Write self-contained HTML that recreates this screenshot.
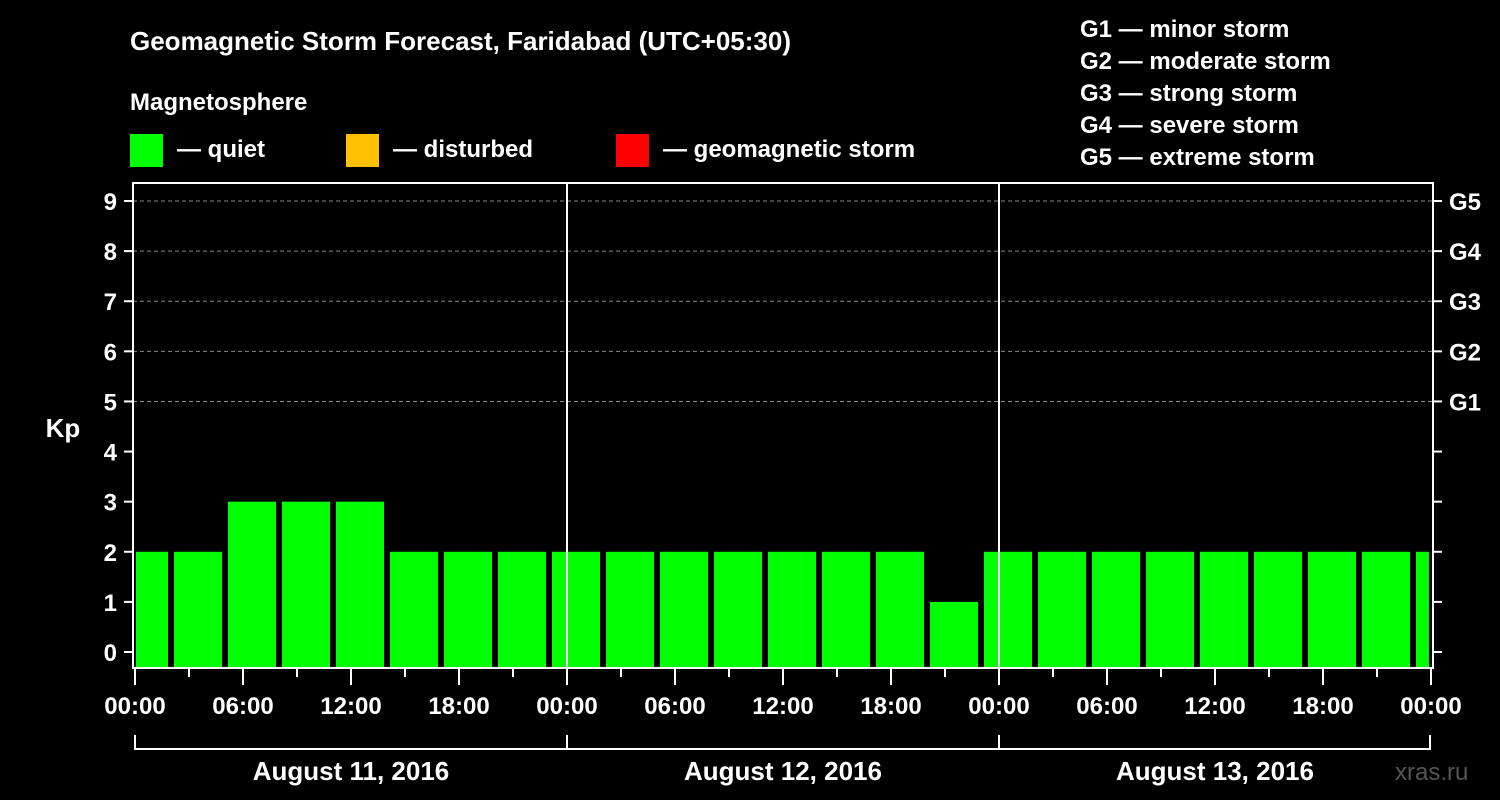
<!DOCTYPE html>
<html><head><meta charset="utf-8"><style>
body{margin:0;background:#000;}
svg{display:block;font-family:"Liberation Sans",Arial,sans-serif;font-weight:bold;}
</style></head><body>
<svg id="chart" width="1500" height="800">
<rect width="1500" height="800" fill="#000"/>
<text x="130" y="50" font-size="26" fill="#fff">Geomagnetic Storm Forecast, Faridabad (UTC+05:30)</text>
<text x="130" y="110" font-size="24" fill="#fff">Magnetosphere</text>
<g><rect x="130" y="134" width="33" height="33" fill="#00ff00"/><text x="177" y="157" font-size="24" fill="#fff">— quiet</text></g>
<g><rect x="346" y="134" width="33" height="33" fill="#ffc000"/><text x="393" y="157" font-size="24" fill="#fff">— disturbed</text></g>
<g><rect x="616" y="134" width="33" height="33" fill="#ff0000"/><text x="663" y="157" font-size="24" fill="#fff">— geomagnetic storm</text></g>
<g font-size="24" fill="#fff">
<text x="1080" y="37">G1 — minor storm</text>
<text x="1080" y="69">G2 — moderate storm</text>
<text x="1080" y="101">G3 — strong storm</text>
<text x="1080" y="133">G4 — severe storm</text>
<text x="1080" y="165">G5 — extreme storm</text>
</g>
<text x="63" y="437" font-size="26" fill="#fff" text-anchor="middle">Kp</text>
<text x="1395" y="780" font-size="24" fill="#555" font-weight="normal">xras.ru</text>
<g id="grid"></g><g id="bars"></g><g id="axes"></g>
</svg>
<script>
const kpValues=[2,2,3,3,3,2,2,2,2,2,2,2,2,2,2,1,2,2,2,2,2,2,2,2,2];
const slotStartHour=-1;
const yTicks=[0,1,2,3,4,5,6,7,8,9];
const gLabels=["","","","","","G1","G2","G3","G4","G5"];
const xTickLabels=["00:00","06:00","12:00","18:00","00:00","06:00","12:00","18:00","00:00","06:00","12:00","18:00","00:00"];
const dayLabels=["August 11, 2016","August 12, 2016","August 13, 2016"];
const NS="http://www.w3.org/2000/svg";
const X0=135,PX_H=18,Y0=652,PX_K=50.11,BOT=668,TOP=183,L=133,R=1433,XEND=1430;
const x=h=>X0+h*PX_H, y=k=>Y0-k*PX_K;
function mk(tag,attrs,parent){const e=document.createElementNS(NS,tag);for(const k in attrs)e.setAttribute(k,attrs[k]);parent.appendChild(e);return e;}
const grid=document.getElementById('grid'),bars=document.getElementById('bars'),axes=document.getElementById('axes');
yTicks.forEach((k,i)=>{
 if(k>=5){const g=mk('line',{x1:L,x2:R,y1:y(k),y2:y(k),stroke:'#888','stroke-dasharray':'4,3','stroke-width':1},grid);
 
 }
 const t=mk('line',{x1:L-9,x2:L,y1:y(k),y2:y(k),stroke:'#fff','stroke-width':2},axes);
 
 
 const t2=mk('line',{x1:R,x2:R+9,y1:y(k),y2:y(k),stroke:'#fff','stroke-width':2},axes);
 
 
 const lb=mk('text',{x:117,y:y(k)+9,'font-size':24,fill:'#fff','text-anchor':'end'},axes);lb.textContent=k;
 
 
 if(gLabels[i]){const gl=mk('text',{x:1449,y:y(k)+9,'font-size':24,fill:'#fff'},axes);gl.textContent=gLabels[i];
 
 }
});
kpValues.forEach((v,i)=>{
 const h0=slotStartHour+3*i,h1=h0+3;
 let a=x(h0)+3,b=x(h1)-3;
 if(h0<0)a=x(0)+1; if(h1>72)b=x(72)-2;
 const col=v>=5?'#ff0000':(v>=4?'#ffc000':'#00ff00');
 const r=mk('rect',{x:a,y:y(v),width:b-a,height:BOT-y(v),fill:col},bars);
 
 
});
[1,2].forEach(d=>{const l=mk('line',{x1:x(24*d),x2:x(24*d),y1:TOP,y2:BOT,stroke:'#fff','stroke-width':2},axes);
 
 });
const fr=mk('rect',{x:L,y:TOP,width:R-L,height:BOT-TOP,fill:'none',stroke:'#fff','stroke-width':2},axes);


for(let h=0;h<=72;h+=3){const major=h%6===0;
 const t=mk('line',{x1:x(h),x2:x(h),y1:BOT,y2:BOT+(major?17:9),stroke:'#fff','stroke-width':2},axes);
 
 }
xTickLabels.forEach((s,i)=>{const t=mk('text',{x:x(6*i),y:714,'font-size':24,fill:'#fff','text-anchor':'middle'},axes);t.textContent=s;
 
 });
const br=mk('path',{d:`M${x(0)},735V749H${XEND}V735M${x(24)},735V749M${x(48)},735V749`,fill:'none',stroke:'#fff','stroke-width':2},axes);


dayLabels.forEach((s,i)=>{const t=mk('text',{x:x(24*i+12),y:780,'font-size':26,fill:'#fff','text-anchor':'middle'},axes);t.textContent=s;
 
 });
</script>
</body></html>
